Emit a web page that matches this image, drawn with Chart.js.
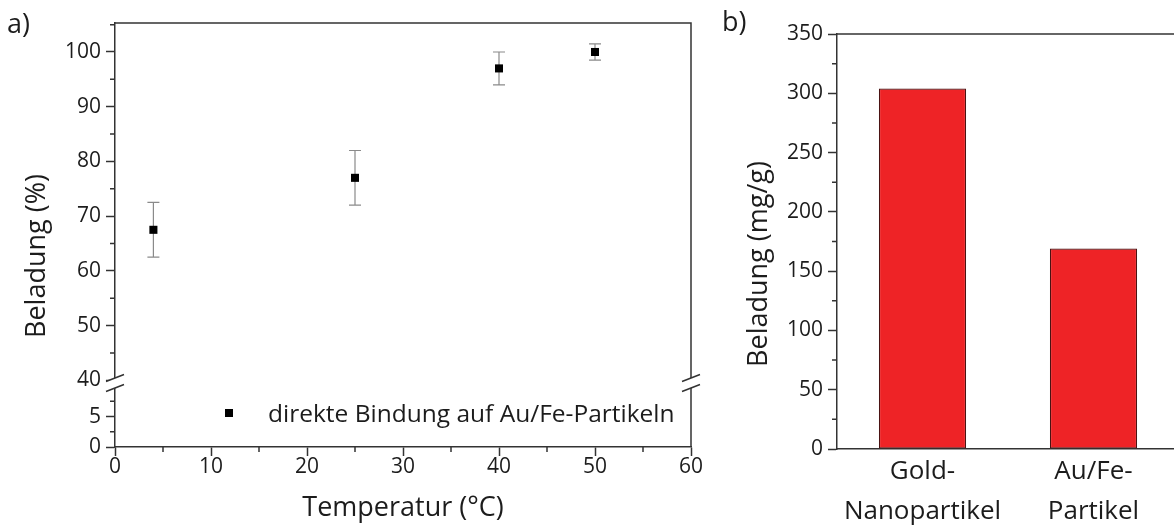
<!DOCTYPE html>
<html>
<head>
<meta charset="utf-8">
<script src="https://cdn.jsdelivr.net/npm/chart.js@4.4.0/dist/chart.umd.min.js"></script>
<style>
  html, body { margin: 0; padding: 0; background: #fff; overflow: hidden; width: 1174px; height: 525px; }
  #tempChart { position: absolute; left: 0; top: 0; }
  #barChart { position: absolute; left: 705px; top: 0; }
</style>
</head>
<body>
<canvas id="tempChart" width="720" height="525"></canvas>
<canvas id="barChart" width="480" height="525"></canvas>
<script>
// a) Beladung vs. Temperatur
const temperatures = [4, 25, 40, 50];
const loadings = [67.5, 77, 97, 100];
const loadingErrors = [5, 5, 3, 1.5];
const xTicks = [0, 10, 20, 30, 40, 50, 60];
const yUpperTicks = [40, 50, 60, 70, 80, 90, 100];
const yLowerTicks = [0, 5];

// b) Beladung je Partikeltyp
const particleTypes = [['Gold-', 'Nanopartikel'], ['Au/Fe-', 'Partikel']];
const particleLoadings = [304, 169];
const barYTicks = [0, 50, 100, 150, 200, 250, 300, 350];

const FONT = "'Open Sans', sans-serif";
const TEXT = '#1c1c1c';
const AXIS = '#333';
Chart.defaults.font.family = FONT;
Chart.defaults.color = TEXT;

// small helpers for the hand drawn bits (minor ticks, frame, breaks)
function minorTicks(ctx, scale, majors, len) {
    const step = (majors[1] - majors[0]) / 2;
    ctx.beginPath();
    majors.forEach(v => {
        const m = v + step;
        if (m > scale.max || m < scale.min) return;
        const p = scale.getPixelForValue(m);
        if (scale.isHorizontal()) {
            ctx.moveTo(p, scale.top); ctx.lineTo(p, scale.top + len);
        } else {
            ctx.moveTo(scale.right, p); ctx.lineTo(scale.right - len, p);
        }
    });
    ctx.stroke();
}

function drawBreak(ctx, x, yb) {
    ctx.save();
    ctx.fillStyle = '#fff';
    ctx.beginPath();
    ctx.moveTo(x - 9, yb - 1.5);
    ctx.lineTo(x + 9, yb - 8.5);
    ctx.lineTo(x + 9, yb + 1.5);
    ctx.lineTo(x - 9, yb + 8.5);
    ctx.closePath();
    ctx.fill();
    ctx.strokeStyle = AXIS;
    ctx.lineWidth = 1.5;
    ctx.beginPath();
    ctx.moveTo(x - 9, yb - 1.5); ctx.lineTo(x + 9, yb - 8.5);
    ctx.moveTo(x - 9, yb + 8.5); ctx.lineTo(x + 9, yb + 1.5);
    ctx.stroke();
    ctx.restore();
}

function rotatedTitle(ctx, text, cx, cy, size) {
    ctx.save();
    ctx.translate(cx, cy);
    ctx.rotate(-Math.PI / 2);
    ctx.font = size + 'px ' + FONT;
    ctx.fillStyle = TEXT;
    ctx.textAlign = 'center';
    ctx.textBaseline = 'middle';
    ctx.fillText(text, 0, 0);
    ctx.restore();
}

const errorBars = {
    id: 'errorBars',
    beforeDatasetsDraw(chart) {
        const {ctx, scales: {x, y}} = chart;
        ctx.save();
        ctx.strokeStyle = '#8a8a8a';
        ctx.lineWidth = 1.2;
        temperatures.forEach((t, i) => {
            const px = x.getPixelForValue(t);
            const top = y.getPixelForValue(loadings[i] + loadingErrors[i]);
            const bot = y.getPixelForValue(loadings[i] - loadingErrors[i]);
            ctx.beginPath();
            ctx.moveTo(px, top); ctx.lineTo(px, bot);
            ctx.moveTo(px - 6, top); ctx.lineTo(px + 6, top);
            ctx.moveTo(px - 6, bot); ctx.lineTo(px + 6, bot);
            ctx.stroke();
        });
        ctx.restore();
    }
};

const leftDecor = {
    id: 'leftDecor',
    afterDraw(chart) {
        const {ctx, chartArea: a, scales: {x, y, yLow}} = chart;
        ctx.save();
        ctx.strokeStyle = AXIS;
        ctx.lineWidth = 1.5;
        // top and right frame
        ctx.beginPath();
        ctx.moveTo(a.left, a.top); ctx.lineTo(a.right, a.top); ctx.lineTo(a.right, a.bottom);
        ctx.stroke();
        minorTicks(ctx, x, xTicks, 5);
        minorTicks(ctx, y, yUpperTicks, 5);
        minorTicks(ctx, yLow, [0, 5], 5);
        ctx.restore();

        const yb = y.bottom;
        drawBreak(ctx, a.left, yb);
        drawBreak(ctx, a.right, yb);

        rotatedTitle(ctx, 'Beladung (%)', 37, 256, 27);

        ctx.save();
        ctx.fillStyle = TEXT;
        ctx.font = '27px ' + FONT;
        ctx.textBaseline = 'alphabetic';
        ctx.fillText('a)', 7, 33);
        // legend inside the lower segment
        ctx.fillStyle = '#000';
        ctx.fillRect(225, 409, 8, 8);
        ctx.fillStyle = TEXT;
        ctx.font = '24.5px ' + FONT;
        ctx.fillText(chart.data.datasets[0].label, 268, 422);
        ctx.restore();
    }
};

const rightDecor = {
    id: 'rightDecor',
    afterDraw(chart) {
        const {ctx, chartArea: a, scales: {y}} = chart;
        ctx.save();
        ctx.strokeStyle = AXIS;
        ctx.lineWidth = 1.5;
        ctx.beginPath();
        ctx.moveTo(a.left, a.top); ctx.lineTo(chart.width, a.top);
        ctx.stroke();
        minorTicks(ctx, y, barYTicks, 5);
        ctx.restore();

        rotatedTitle(ctx, 'Beladung (mg/g)', 54, 264, 27);

        ctx.save();
        ctx.fillStyle = TEXT;
        ctx.font = '27px ' + FONT;
        ctx.fillText('b)', 17, 31);
        ctx.restore();
    }
};

const axisGrid = {drawOnChartArea: false, tickLength: 9, color: AXIS, tickWidth: 1.5};
const axisBorder = {color: AXIS, width: 1.5};
const tickFont = {size: 21, lineHeight: 1};

new Chart(document.getElementById('tempChart'), {
    type: 'scatter',
    data: {
        datasets: [{
            label: 'direkte Bindung auf Au/Fe-Partikeln',
            data: temperatures.map((t, i) => ({x: t, y: loadings[i]})),
            yAxisID: 'y',
            backgroundColor: '#000',
            borderColor: '#000',
            borderWidth: 0,
            pointStyle: 'rect',
            pointRadius: 5.7,
            pointHoverRadius: 5.7
        }]
    },
    options: {
        responsive: false,
        animation: false,
        events: [],
        layout: {padding: {left: 0, top: 23, right: 29, bottom: 0}},
        plugins: {legend: {display: false}, tooltip: {enabled: false}},
        scales: {
            x: {
                type: 'linear',
                position: 'bottom',
                min: 0,
                max: 60,
                afterBuildTicks: s => { s.ticks = xTicks.map(v => ({value: v})); },
                afterFit: s => { s.height = 78; },
                grid: axisGrid,
                border: axisBorder,
                ticks: {font: tickFont, padding: 1, maxRotation: 0, color: TEXT},
                title: {display: true, text: 'Temperatur (°C)', font: {size: 27}, color: TEXT, padding: {top: 0, bottom: 0}}
            },
            // lower segment first: Chart.js stacks left axes in reverse order
            yLow: {
                type: 'linear',
                position: 'left',
                stack: 'beladung',
                stackWeight: 1,
                min: 0,
                max: 10.5,
                afterBuildTicks: s => { s.ticks = yLowerTicks.map(v => ({value: v})); },
                afterFit: s => { s.width = 115; },
                grid: axisGrid,
                border: axisBorder,
                ticks: {font: tickFont, padding: 5, color: TEXT}
            },
            y: {
                type: 'linear',
                position: 'left',
                stack: 'beladung',
                stackWeight: 5.625,
                min: 39.5,
                max: 105.3,
                afterBuildTicks: s => { s.ticks = yUpperTicks.map(v => ({value: v})); },
                afterFit: s => { s.width = 115; },
                grid: axisGrid,
                border: axisBorder,
                ticks: {font: tickFont, padding: 5, color: TEXT}
            }
        }
    },
    plugins: [errorBars, leftDecor]
});

new Chart(document.getElementById('barChart'), {
    type: 'bar',
    data: {
        labels: particleTypes,
        datasets: [{
            data: particleLoadings,
            backgroundColor: '#ee2326',
            borderColor: '#4a1212',
            borderWidth: 1.2,
            borderSkipped: false,
            barPercentage: 0.51,
            categoryPercentage: 1
        }]
    },
    options: {
        responsive: false,
        animation: false,
        events: [],
        layout: {padding: {left: 0, top: 34, right: 6, bottom: 0}},
        plugins: {legend: {display: false}, tooltip: {enabled: false}},
        scales: {
            x: {
                afterFit: s => { s.height = 76; },
                grid: {drawOnChartArea: false, drawTicks: false, color: AXIS},
                border: axisBorder,
                ticks: {font: {size: 26, lineHeight: 1.55}, padding: 2, maxRotation: 0, color: TEXT}
            },
            y: {
                min: 0,
                max: 350,
                afterBuildTicks: s => { s.ticks = barYTicks.map(v => ({value: v})); },
                afterFit: s => { s.width = 132; },
                grid: axisGrid,
                border: axisBorder,
                ticks: {font: tickFont, padding: 5, color: TEXT}
            }
        }
    },
    plugins: [rightDecor]
});
</script>
</body>
</html>
